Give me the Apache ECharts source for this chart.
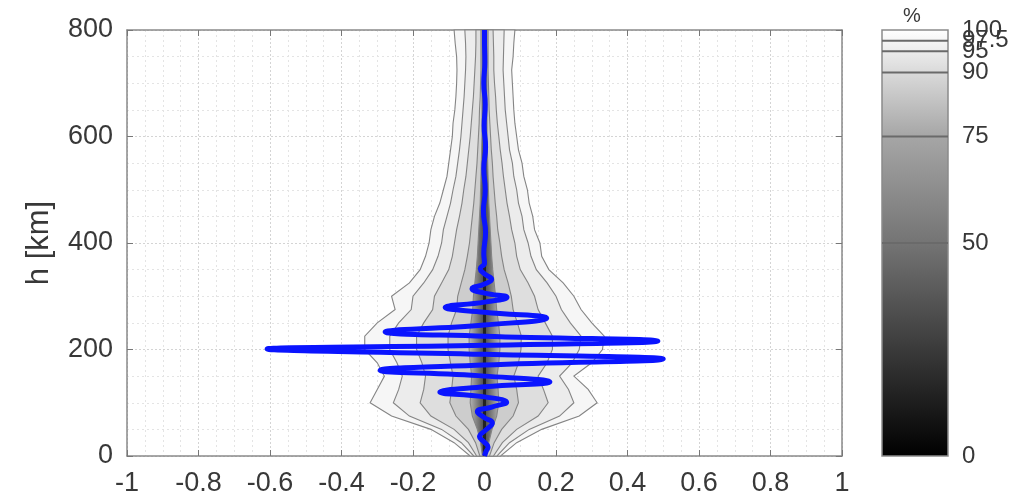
<!DOCTYPE html>
<html><head><meta charset="utf-8">
<script src="https://cdn.jsdelivr.net/npm/echarts@6/dist/echarts.min.js"></script>
<style>html,body{margin:0;padding:0;background:#fff}#c{width:1026px;height:499px}</style>
</head><body><div id="c"></div>
<script>
// ---- data ----
const xTicks = [-1, -0.8, -0.6, -0.4, -0.2, 0, 0.2, 0.4, 0.6, 0.8, 1];
const yTicks = [0, 200, 400, 600, 800];
const cbLabels = [0, 50, 75, 90, 95, 97.5, 100];
const cbLevels = [50, 75, 90, 95, 97.5];

const heights = [0,25,50,75,100,125,150,175,200,225,250,275,300,325,350,375,400,425,450,475,500,525,550,575,600,625,650,675,700,725,750,775,800];

const p975L = [-0.04,-0.085,-0.15,-0.26,-0.32,-0.30,-0.28,-0.30,-0.335,-0.335,-0.30,-0.25,-0.26,-0.21,-0.18,-0.165,-0.155,-0.15,-0.14,-0.125,-0.115,-0.105,-0.10,-0.095,-0.09,-0.088,-0.083,-0.08,-0.078,-0.077,-0.078,-0.082,-0.085];
const p975R = [0.045,0.09,0.16,0.265,0.315,0.29,0.25,0.30,0.33,0.335,0.30,0.27,0.25,0.22,0.18,0.16,0.155,0.14,0.135,0.125,0.12,0.11,0.105,0.095,0.09,0.085,0.082,0.08,0.078,0.076,0.08,0.082,0.085];

const p95L = [-0.03,-0.065,-0.12,-0.21,-0.255,-0.24,-0.23,-0.245,-0.265,-0.265,-0.24,-0.205,-0.2,-0.17,-0.145,-0.13,-0.12,-0.115,-0.105,-0.095,-0.088,-0.08,-0.075,-0.07,-0.066,-0.063,-0.06,-0.057,-0.055,-0.053,-0.052,-0.053,-0.055];
const p95R = [0.035,0.07,0.125,0.21,0.25,0.235,0.21,0.245,0.265,0.27,0.24,0.215,0.2,0.175,0.145,0.13,0.122,0.11,0.105,0.095,0.09,0.082,0.078,0.07,0.066,0.062,0.058,0.056,0.054,0.052,0.053,0.054,0.055];

const p90L = [-0.022,-0.045,-0.085,-0.15,-0.18,-0.17,-0.165,-0.175,-0.19,-0.19,-0.17,-0.145,-0.14,-0.12,-0.10,-0.09,-0.084,-0.078,-0.07,-0.063,-0.058,-0.052,-0.048,-0.044,-0.04,-0.037,-0.034,-0.031,-0.029,-0.027,-0.025,-0.024,-0.024];
const p90R = [0.025,0.05,0.09,0.15,0.178,0.165,0.15,0.175,0.19,0.19,0.17,0.15,0.14,0.122,0.10,0.09,0.085,0.076,0.07,0.063,0.058,0.053,0.049,0.044,0.04,0.036,0.033,0.031,0.028,0.026,0.026,0.025,0.024];

const p75L = [-0.013,-0.025,-0.045,-0.08,-0.097,-0.092,-0.088,-0.095,-0.102,-0.102,-0.092,-0.078,-0.075,-0.065,-0.055,-0.048,-0.042,-0.038,-0.034,-0.03,-0.027,-0.024,-0.021,-0.019,-0.017,-0.015,-0.014,-0.012,-0.011,-0.01,-0.01,-0.01,-0.01];
const p75R = [0.014,0.027,0.048,0.08,0.095,0.09,0.082,0.095,0.102,0.103,0.092,0.08,0.075,0.066,0.055,0.048,0.043,0.037,0.034,0.03,0.027,0.024,0.022,0.019,0.017,0.015,0.013,0.012,0.011,0.01,0.01,0.01,0.01];

const p50L = [-0.006,-0.011,-0.02,-0.034,-0.04,-0.038,-0.036,-0.04,-0.043,-0.043,-0.038,-0.033,-0.031,-0.027,-0.023,-0.02,-0.018,-0.016,-0.014,-0.012,-0.011,-0.01,-0.009,-0.008,-0.007,-0.007,-0.007,-0.007,-0.007,-0.007,-0.007,-0.007,-0.007];
const p50R = [0.006,0.012,0.021,0.034,0.04,0.038,0.035,0.04,0.043,0.043,0.039,0.034,0.031,0.027,0.023,0.02,0.018,0.016,0.014,0.012,0.011,0.01,0.009,0.008,0.007,0.007,0.007,0.007,0.007,0.007,0.007,0.007,0.007];

const coreX = [0, 0];
const coreH = [0, 400];

const blueH = [0,8,17,27,36,49,62,72,83,92,101,111,120,130,139,150,161,171,182,191,201,208,216,225,233,246,259,270,279,289,298,306,314,323,332,342,352,362,380,420,460,500,540,580,620,660,700,740,780,800];
const blueX = [0.0,0.004,0.01,-0.002,-0.014,0.004,0.022,0.0,-0.02,0.02,0.062,0.0,-0.125,0.0,0.183,0.0,-0.292,0.0,0.50,0.0,-0.608,0.0,0.485,0.0,-0.278,0.0,0.174,0.0,-0.11,0.0,0.063,0.0,-0.035,0.0,0.02,0.0,-0.012,0.0,-0.002,0.003,-0.003,0.002,-0.002,0.003,-0.001,0.002,-0.002,0.001,0.0,0.0];

// ---- chart ----
const FONT = '"Liberation Sans", Arial, Helvetica, sans-serif';
const chart = echarts.init(document.getElementById('c'), null, {renderer: 'canvas'});

function band(L, R, fill, z) {
  return {
    type: 'custom', xAxisIndex: 0, yAxisIndex: 0, z: z, silent: true,
    data: [[0, 0]],
    renderItem: function (params, api) {
      const pts = [];
      for (let i = 0; i < heights.length; i++) pts.push(api.coord([L[i], heights[i]]));
      for (let i = heights.length - 1; i >= 0; i--) pts.push(api.coord([R[i], heights[i]]));
      return {type: 'polygon', shape: {points: pts}, style: {fill: fill, stroke: '#858585', lineWidth: 1.1}};
    }
  };
}

const innerGrad = new echarts.graphic.LinearGradient(0, 0, 1, 0, [
  {offset: 0, color: '#bdbdbd'}, {offset: 0.5, color: '#4a4a4a'}, {offset: 1, color: '#bdbdbd'}
]);
const cbGrad = new echarts.graphic.LinearGradient(0, 1, 0, 0, [
  {offset: 0, color: '#000000'}, {offset: 0.25, color: '#3a3a3a'}, {offset: 0.5, color: '#747474'},
  {offset: 0.75, color: '#a6a6a6'}, {offset: 0.9, color: '#dadada'}, {offset: 1, color: '#ffffff'}
]);

const axisLineStyle = {color: '#8a8a8a', width: 1.5};
const labelStyle = {fontFamily: FONT, fontSize: 27, color: '#383838'};

const option = {
  animation: false,
  backgroundColor: '#ffffff',
  grid: [
    {left: 127, right: 184, top: 30, bottom: 43},
    {left: 882, width: 66, top: 30, height: 426}
  ],
  xAxis: [
    {type: 'value', gridIndex: 0, min: -1, max: 1, interval: 0.2, position: 'bottom',
     axisLine: {show: true, onZero: false, lineStyle: axisLineStyle},
     axisTick: {show: true, inside: true, length: 6, lineStyle: {color: '#777'}},
     axisLabel: {show: true, margin: 14, ...labelStyle,
       formatter: v => { const r = Math.round(v * 10) / 10; return xTicks.indexOf(r) >= 0 ? String(r) : ''; }},
     splitLine: {show: true, lineStyle: {color: '#d4d4d4', type: [2, 2], width: 1}},
     minorTick: {show: false, splitNumber: 4},
     minorSplitLine: {show: true, lineStyle: {color: '#e4e4e4', type: [2, 3], width: 1}}},
    {type: 'value', gridIndex: 0, min: -1, max: 1, interval: 0.2, position: 'top',
     axisLine: {show: true, onZero: false, lineStyle: axisLineStyle},
     axisTick: {show: true, inside: true, length: 6, lineStyle: {color: '#777'}},
     axisLabel: {show: false}, splitLine: {show: false}},
    {type: 'value', gridIndex: 1, min: 0, max: 1, show: false}
  ],
  yAxis: [
    {type: 'value', gridIndex: 0, min: 0, max: 800, interval: 200, position: 'left',
     name: 'h [km]', nameLocation: 'middle', nameGap: 72,
     nameTextStyle: {fontFamily: FONT, fontSize: 31, color: '#383838'},
     axisLine: {show: true, onZero: false, lineStyle: axisLineStyle},
     axisTick: {show: true, inside: true, length: 6, lineStyle: {color: '#777'}},
     axisLabel: {show: true, margin: 14, ...labelStyle,
       formatter: v => yTicks.indexOf(v) >= 0 ? String(v) : ''},
     splitLine: {show: true, lineStyle: {color: '#d4d4d4', type: [2, 2], width: 1}},
     minorTick: {show: false, splitNumber: 4},
     minorSplitLine: {show: true, lineStyle: {color: '#e4e4e4', type: [2, 3], width: 1}}},
    {type: 'value', gridIndex: 0, min: 0, max: 800, interval: 200, position: 'right',
     axisLine: {show: true, onZero: false, lineStyle: axisLineStyle},
     axisTick: {show: true, inside: true, length: 6, lineStyle: {color: '#777'}},
     axisLabel: {show: false}, splitLine: {show: false}},
    {type: 'value', gridIndex: 1, min: 0, max: 100, position: 'right', show: false}
  ],
  graphic: [
    {type: 'text', left: 903, top: 6, style: {text: '%', font: '20px ' + FONT, fill: '#383838'}}
  ],
  series: [
    band(p975L, p975R, '#f6f6f6', 2),
    band(p95L, p95R, '#ececec', 3),
    band(p90L, p90R, '#dedede', 4),
    band(p75L, p75R, '#cdcdcd', 5),
    band(p50L, p50R, innerGrad, 6),
    {type: 'line', xAxisIndex: 0, yAxisIndex: 0, z: 7, silent: true, symbol: 'none',
     data: coreH.map((h, i) => [coreX[i], h]),
     lineStyle: {color: '#222222', width: 3}},
    {type: 'line', xAxisIndex: 0, yAxisIndex: 0, z: 10, silent: true, symbol: 'none', showSymbol: false,
     smooth: 0.5,
     data: blueH.map((h, i) => [blueX[i], h]),
     lineStyle: {color: '#0a14ff', width: 5}},
    // colorbar
    {type: 'custom', xAxisIndex: 2, yAxisIndex: 2, z: 2, silent: true, data: [[0, 0]],
     renderItem: function (params, api) {
       const p0 = api.coord([0, 0]), p1 = api.coord([1, 100]);
       return {type: 'rect', shape: {x: p0[0], y: p1[1], width: p1[0] - p0[0], height: p0[1] - p1[1]},
               style: {fill: cbGrad, stroke: '#8a8a8a', lineWidth: 1.5}};
     }},
    {type: 'custom', xAxisIndex: 2, yAxisIndex: 2, z: 3, silent: true,
     data: cbLevels.map(v => [0, v]),
     renderItem: function (params, api) {
       const v = api.value(1);
       const a = api.coord([0, v]), b = api.coord([1, v]);
       return {type: 'line', shape: {x1: a[0], y1: a[1], x2: b[0], y2: b[1]},
               style: {stroke: '#6a6a6a', lineWidth: 2}};
     }},
    {type: 'custom', xAxisIndex: 2, yAxisIndex: 2, z: 4, silent: true, clip: false,
     data: cbLabels.map(v => [1, v]),
     renderItem: function (params, api) {
       const v = api.value(1);
       const p = api.coord([1, v]);
       return {type: 'text', x: p[0] + 14, y: p[1],
               style: {text: String(v), font: '24px ' + FONT, fill: '#383838',
                       textAlign: 'left', textVerticalAlign: 'middle'}};
     }}
  ]
};
chart.setOption(option);
</script>
</body></html>
